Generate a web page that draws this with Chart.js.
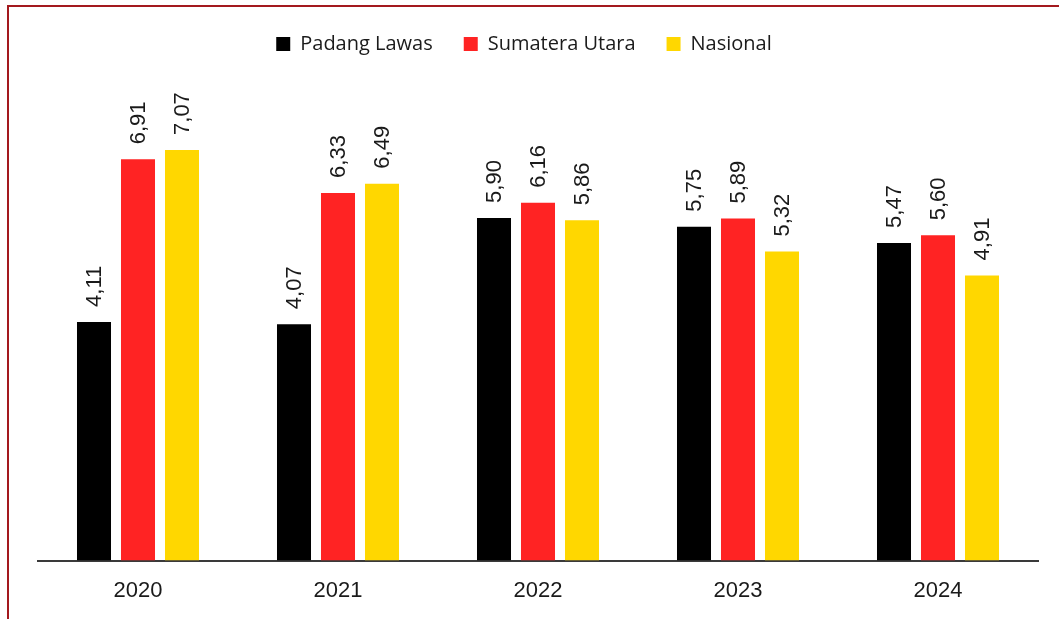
<!DOCTYPE html>
<html>
<head>
<meta charset="utf-8">
<script src="https://cdn.jsdelivr.net/npm/chart.js@4/dist/chart.umd.min.js"></script>
<style>
  html, body { margin: 0; padding: 0; background: #fff; overflow: hidden; }
  #frame { position: absolute; left: 7px; top: 5px; width: 1200px; height: 800px; border: 2px solid #a3191e; box-sizing: border-box; }
  #wrap { position: absolute; left: 0; top: 0; width: 1059px; height: 619px; }
</style>
</head>
<body>
<div id="frame"></div>
<div id="wrap"><canvas id="c" width="1059" height="619"></canvas></div>
<script>
const categories = ["2020", "2021", "2022", "2023", "2024"];
const padangLawas = [4.11, 4.07, 5.90, 5.75, 5.47];
const sumateraUtara = [6.91, 6.33, 6.16, 5.89, 5.60];
const nasional = [7.07, 6.49, 5.86, 5.32, 4.91];
const seriesNames = ["Padang Lawas", "Sumatera Utara", "Nasional"];
const seriesColors = ["#000000", "#ff2323", "#ffd700"];

const labelPlugin = {
  id: 'barLabels',
  afterDatasetsDraw(chart) {
    const ctx = chart.ctx;
    ctx.save();
    ctx.font = '22px "Liberation Sans", Arial, sans-serif';
    ctx.fillStyle = '#1a1a1a';
    ctx.textAlign = 'left';
    ctx.textBaseline = 'middle';
    chart.data.datasets.forEach((ds, i) => {
      const meta = chart.getDatasetMeta(i);
      meta.data.forEach((el, j) => {
        const txt = ds.data[j].toFixed(2).replace('.', ',');
        ctx.save();
        ctx.translate(el.x, el.y - 15);
        ctx.rotate(-Math.PI / 2);
        ctx.fillText(txt, 0, 1);
        ctx.restore();
      });
    });
    ctx.restore();
  }
};

const legendShift = {
  id: 'legendShift',
  afterLayout(chart) {
    chart.legend.left -= 14;
    chart.legend.right -= 14;
  }
};

const dataSets = [padangLawas, sumateraUtara, nasional];
new Chart(document.getElementById('c'), {
  type: 'bar',
  data: {
    labels: categories,
    datasets: dataSets.map((d, i) => ({
      label: seriesNames[i],
      data: d,
      backgroundColor: seriesColors[i],
      borderWidth: 0,
      categoryPercentage: 0.66,
      barPercentage: 0.773
    }))
  },
  options: {
    responsive: false,
    animation: false,
    devicePixelRatio: 1,
    layout: { padding: { left: 38, right: 21, top: 3, bottom: -2 } },
    plugins: {
      legend: {
        position: 'top',
        labels: {
          boxWidth: 14,
          boxHeight: 14,
          padding: 31,
          color: '#1b1b1b',
          font: { family: '"Open Sans", sans-serif', size: 20 }
        }
      },
      tooltip: { enabled: false }
    },
    scales: {
      x: {
        grid: { display: false, drawTicks: false },
        border: { display: true, color: '#3a3a3a', width: 2 },
        ticks: {
          padding: 17,
          color: '#1a1a1a',
          font: { family: '"Liberation Sans", Arial, sans-serif', size: 22 }
        }
      },
      y: {
        display: false,
        min: 0,
        max: 8.55
      }
    }
  },
  plugins: [labelPlugin, legendShift]
});
</script>
</body>
</html>
